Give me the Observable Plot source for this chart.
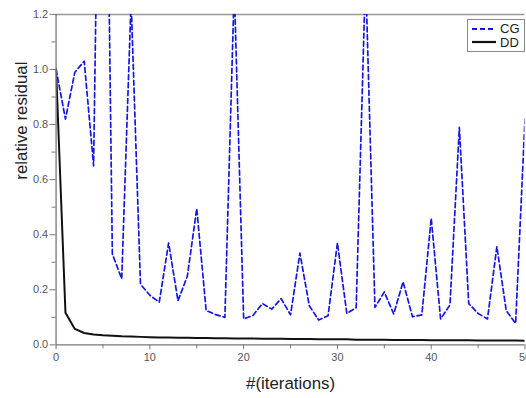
<!DOCTYPE html>
<html>
<head>
<meta charset="utf-8">
<script src="https://cdn.jsdelivr.net/npm/d3@7"></script>
<script src="https://cdn.jsdelivr.net/npm/@observablehq/plot@0.6"></script>
<style>
  html, body { margin: 0; padding: 0; background: #fff; overflow: hidden; width: 526px; height: 398px; }
  #wrap { position: relative; width: 526px; height: 398px; overflow: hidden; }
  #legend { position: absolute; left: 467px; top: 19px; width: 56px; height: 31px; border: 1.5px solid #888; background: #fff;
    font-family: "Liberation Sans Narrow", "Liberation Sans", Arial, sans-serif; font-size: 13px; color: #222; }
  #legend .row { position: absolute; left: 3px; width: 52px; height: 13px; line-height: 13px; }
  #legend svg { position: absolute; left: 0; top: 0; }
  #legend span { position: absolute; left: 29px; top: 0; }
</style>
</head>
<body>
<div id="wrap">
  <div id="chart"></div>
  <div id="legend">
    <div class="row" style="top:2px"><svg width="26" height="13"><line x1="1" x2="25" y1="7" y2="7" stroke="#1414e6" stroke-width="2.2" stroke-dasharray="5,3"/></svg><span>CG</span></div>
    <div class="row" style="top:16px"><svg width="26" height="13"><line x1="1" x2="25" y1="6" y2="6" stroke="#111" stroke-width="2.2"/></svg><span>DD</span></div>
  </div>
</div>
<script>
const iterations = [0,1,2,3,4,5,6,7,8,9,10,11,12,13,14,15,16,17,18,19,20,21,22,23,24,25,26,27,28,29,30,31,32,33,34,35,36,37,38,39,40,41,42,43,44,45,46,47,48,49,50];
const cgResidual = [1.0,0.82,0.99,1.03,0.65,3.0,0.33,0.24,1.25,0.22,0.18,0.155,0.37,0.16,0.25,0.495,0.125,0.11,0.10,1.3,0.094,0.107,0.15,0.13,0.168,0.109,0.333,0.142,0.09,0.106,0.37,0.114,0.135,1.35,0.136,0.192,0.112,0.229,0.102,0.109,0.46,0.094,0.145,0.79,0.15,0.114,0.094,0.357,0.124,0.078,0.82];
const ddResidual = [1.0,0.117,0.058,0.043,0.038,0.035,0.033,0.031,0.030,0.029,0.028,0.027,0.027,0.026,0.026,0.025,0.025,0.024,0.024,0.023,0.023,0.023,0.022,0.022,0.022,0.021,0.021,0.021,0.020,0.020,0.020,0.020,0.019,0.019,0.019,0.019,0.018,0.018,0.018,0.018,0.017,0.017,0.017,0.017,0.017,0.016,0.016,0.016,0.016,0.016,0.015];
const xMajorTicks = [0,10,20,30,40,50];
const xMinorTicks = [5,15,25,35,45];
const yMajorTicks = [0,0.2,0.4,0.6,0.8,1.0,1.2];
const yMinorTicks = [0.1,0.3,0.5,0.7,0.9,1.1];

const cg = iterations.map((x,i) => ({x, y: cgResidual[i]}));
const dd = iterations.map((x,i) => ({x, y: ddResidual[i]}));

const axisColor = "#777";
const plot = Plot.plot({
  width: 530,
  height: 398,
  marginLeft: 56,
  marginRight: 1.5,
  marginTop: 14,
  marginBottom: 51,
  style: {fontFamily: "'Liberation Sans', Arial, sans-serif", fontSize: "11px", color: "#555", background: "transparent", overflow: "visible"},
  x: {domain: [0, 50]},
  y: {domain: [0, 1.2]},
  marks: [
    Plot.ruleY([1.2], {stroke: "#999", strokeWidth: 1.5}),
    Plot.line(dd, {x: "x", y: "y", stroke: "#111", strokeWidth: 2, clip: true}),
    Plot.line(cg, {x: "x", y: "y", stroke: "#1414e6", strokeWidth: 1.7, strokeDasharray: "5,3", clip: true}),
    Plot.axisX({ticks: xMajorTicks, tickSize: 5, tickPadding: 3, stroke: axisColor, fill: "#555", label: null, tickFormat: d => d}),
    Plot.axisX({ticks: xMinorTicks, tickSize: 4, stroke: axisColor, text: null, label: null}),
    Plot.axisY({ticks: yMajorTicks, tickSize: 6, tickPadding: 2, stroke: axisColor, fill: "#555", label: null, tickFormat: d => d.toFixed(1)}),
    Plot.axisY({ticks: yMinorTicks, tickSize: 4, stroke: axisColor, text: null, label: null}),
    Plot.ruleY([0], {stroke: axisColor, strokeWidth: 1.3}),
    Plot.ruleX([0], {stroke: axisColor, strokeWidth: 1.3}),
    Plot.text(["#(iterations)"], {frameAnchor: "bottom", dy: 44, fontSize: 17, fill: "#222", fontFamily: "'Liberation Sans', Arial, sans-serif"}),
    Plot.text(["relative residual"], {frameAnchor: "left", dx: -35, rotate: -90, fontSize: 17, fill: "#222", fontFamily: "'Liberation Sans', Arial, sans-serif"})
  ]
});
document.getElementById("chart").appendChild(plot);
</script>
</body>
</html>
